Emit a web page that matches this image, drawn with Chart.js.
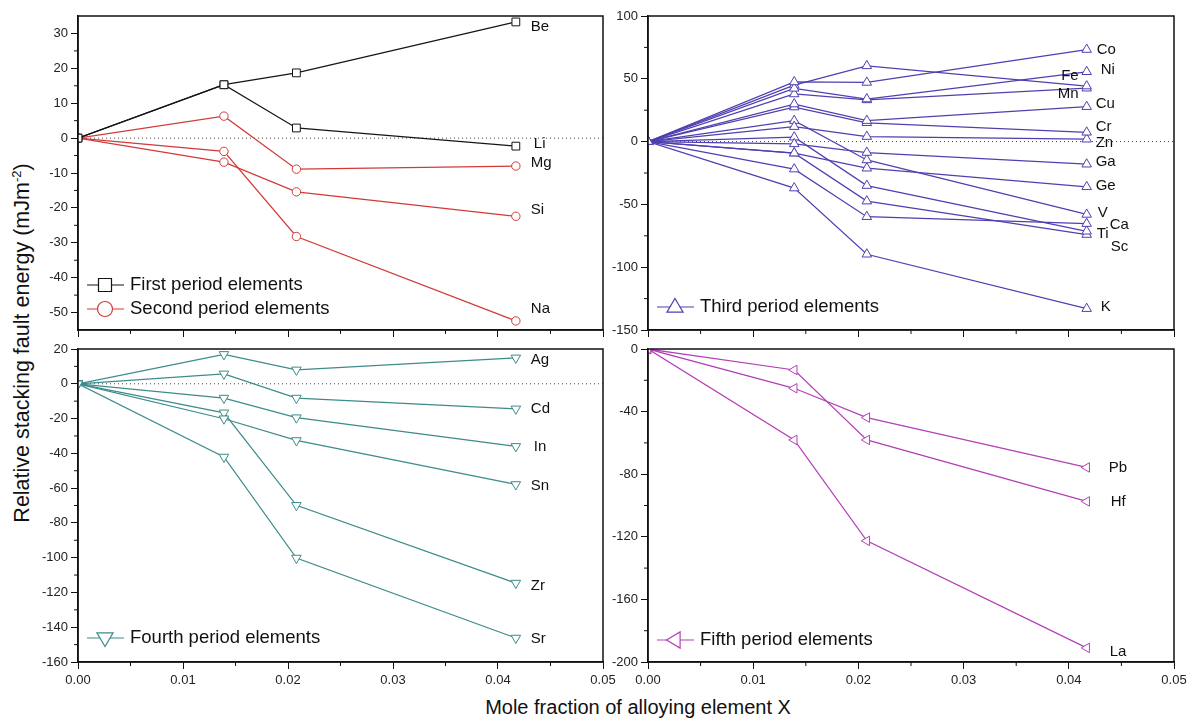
<!DOCTYPE html>
<html>
<head>
<meta charset="utf-8">
<title>Relative stacking fault energy vs mole fraction</title>
<script src="https://cdn.jsdelivr.net/npm/chart.js@4.4.1/dist/chart.umd.min.js"></script>
<style>
  body { margin: 0; background: #fff; }
  #wrap { position: relative; width: 1192px; height: 722px; overflow: hidden;
          font-family: 'Liberation Sans', Arial, sans-serif; color: #111; }
  #wrap canvas { position: absolute; left: 0; top: 0; }
  .ytitle { position: absolute; left: 22px; top: 343px; white-space: nowrap; font-size: 21.5px;
            transform: translate(-50%, -50%) rotate(-90deg); }
  .xtitle { position: absolute; left: 638px; top: 707px; white-space: nowrap; font-size: 20px;
            transform: translate(-50%, -50%); }
</style>
</head>
<body>
<div id="wrap">
  <div class="ytitle">Relative stacking fault energy (mJm<sup style="font-size:13px">-2</sup>)</div>
  <div class="xtitle">Mole fraction of alloying element X</div>
</div>
<script>
// mole fraction of the alloying element (same for every curve)
const xFraction = [0, 0.0139, 0.0208, 0.0417];
const xTicks = [0, 0.01, 0.02, 0.03, 0.04, 0.05];

// first period
const firstNames = ['Be', 'Li'];
const firstValues = [
  [0, 15.3, 18.7, 33.3],
  [0, 15.3, 2.9, -2.3]
];
// second period
const secondNames = ['Mg', 'Si', 'Na'];
const secondValues = [
  [0, 6.3, -8.9, -8.0],
  [0, -6.9, -15.4, -22.4],
  [0, -3.8, -28.2, -52.4]
];
const topLeftTicks = [30, 20, 10, 0, -10, -20, -30, -40, -50];

// third period
const thirdNames = ['Co', 'Ni', 'Fe', 'Mn', 'Cu', 'Cr', 'Zn', 'Ga', 'Ge', 'V', 'Ca', 'Ti', 'Sc', 'K'];
const thirdValues = [
  [0, 47.5, 47.1, 73.3],
  [0, 42.4, 33.9, 55.6],
  [0, 45.0, 60.3, 44.2],
  [0, 37.9, 33.2, 42.5],
  [0, 29.9, 16.7, 27.8],
  [0, 27.5, 15.0, 7.4],
  [0, 11.9, 4.0, 1.9],
  [0, -1.8, -8.7, -18.0],
  [0, -9.2, -21.2, -36.0],
  [0, 16.7, -14.6, -58.0],
  [0, -21.9, -59.8, -65.3],
  [0, 3.5, -35.0, -71.4],
  [0, -9.2, -47.4, -74.0],
  [0, -37.0, -89.7, -133.0]
];
const topRightTicks = [100, 50, 0, -50, -100, -150];

// fourth period
const fourthNames = ['Ag', 'Cd', 'In', 'Sn', 'Zr', 'Sr'];
const fourthValues = [
  [0, 16.9, 8.0, 14.9],
  [0, 5.7, -8.2, -14.4],
  [0, -8.2, -19.5, -36.0],
  [0, -20.1, -32.6, -57.9],
  [0, -16.7, -69.9, -114.6],
  [0, -42.1, -100.2, -146.2]
];
const bottomLeftTicks = [20, 0, -20, -40, -60, -80, -100, -120, -140, -160];

// fifth period
const fifthNames = ['Pb', 'Hf', 'La'];
const fifthValues = [
  [0, -25.1, -43.8, -75.7],
  [0, -13.4, -58.1, -97.4],
  [0, -58.1, -122.6, -191.0]
];
const bottomRightTicks = [0, -40, -80, -120, -160, -200];

const W = 1192, H = 722;
const wrap = document.getElementById('wrap');
const FONT = '"Liberation Sans", Arial, sans-serif';

function drawMarker(ctx, style, x, y, r, rot) {
  ctx.save();
  ctx.translate(x, y);
  ctx.rotate(rot * Math.PI / 180);
  ctx.beginPath();
  if (style === 'rect') {
    ctx.rect(-r, -r, 2 * r, 2 * r);
  } else if (style === 'circle') {
    ctx.arc(0, 0, r, 0, Math.PI * 2);
  } else {
    ctx.moveTo(0, -r);
    ctx.lineTo(r * 0.95, r * 0.6);
    ctx.lineTo(-r * 0.95, r * 0.6);
    ctx.closePath();
  }
  ctx.fillStyle = '#fff';
  ctx.fill();
  ctx.stroke();
  ctx.restore();
}

function makePanel(p) {
  const canvas = document.createElement('canvas');
  canvas.width = W; canvas.height = H;
  wrap.appendChild(canvas);
  const [l, t, r, b] = p.area;
  const xH = p.xLabels ? 30 : 8;

  const datasets = [];
  p.groups.forEach(g => {
    g.names.forEach((n, i) => {
      datasets.push({
        label: n,
        data: xFraction.map((x, k) => ({ x, y: g.values[i][k] })),
        borderColor: g.color,
        borderWidth: 1.25,
        pointStyle: g.marker,
        rotation: g.rotation,
        pointRadius: g.radius,
        pointBorderWidth: 1,
        pointBorderColor: g.color,
        pointBackgroundColor: '#fff',
        tension: 0,
        fill: false
      });
    });
  });

  const decor = {
    id: 'decor_' + p.id,
    beforeDatasetsDraw(chart) {
      if (!p.zero) return;
      const { ctx, chartArea: a, scales } = chart;
      const y0 = scales.y.getPixelForValue(0);
      ctx.save();
      ctx.strokeStyle = '#444';
      ctx.lineWidth = 1;
      ctx.setLineDash([1, 3]);
      ctx.beginPath();
      ctx.moveTo(a.left, y0);
      ctx.lineTo(a.right, y0);
      ctx.stroke();
      ctx.restore();
    },
    afterDraw(chart) {
      const { ctx, chartArea: a, scales } = chart;
      ctx.save();
      // frame
      ctx.strokeStyle = '#111';
      ctx.lineWidth = 1.5;
      ctx.strokeRect(a.left, a.top, a.right - a.left, a.bottom - a.top);
      // minor ticks
      ctx.lineWidth = 1;
      ctx.beginPath();
      for (let i = 0; i < xTicks.length - 1; i++) {
        const px = scales.x.getPixelForValue((xTicks[i] + xTicks[i + 1]) / 2);
        ctx.moveTo(px, a.bottom); ctx.lineTo(px, a.bottom + 4);
      }
      const step = p.yTicks[0] - p.yTicks[1];
      const minors = [];
      for (let i = 0; i < p.yTicks.length - 1; i++) minors.push((p.yTicks[i] + p.yTicks[i + 1]) / 2);
      minors.push(p.yTicks[0] + step / 2, p.yTicks[p.yTicks.length - 1] - step / 2);
      minors.forEach(v => {
        if (v <= p.yMin || v >= p.yMax) return;
        const py = scales.y.getPixelForValue(v);
        ctx.moveTo(a.left, py); ctx.lineTo(a.left - 4, py);
      });
      ctx.stroke();

      // element labels at the end of each curve
      ctx.font = '15px ' + FONT;
      ctx.fillStyle = '#111';
      ctx.textBaseline = 'middle';
      chart.data.datasets.forEach((ds, i) => {
        const pts = chart.getDatasetMeta(i).data;
        const last = pts[pts.length - 1];
        const nudge = p.nudge[ds.label] || [p.labelDx, 0];
        ctx.textAlign = nudge[0] < 0 ? 'right' : 'left';
        ctx.fillText(ds.label, last.x + nudge[0], last.y + nudge[1]);
      });

      // legend
      ctx.font = '18.5px ' + FONT;
      ctx.textAlign = 'left';
      p.groups.forEach((g, k) => {
        const y = a.bottom - p.legendDy[k];
        ctx.strokeStyle = g.color;
        ctx.lineWidth = 1.2;
        ctx.beginPath();
        ctx.moveTo(a.left + 9, y);
        ctx.lineTo(a.left + 46, y);
        ctx.stroke();
        drawMarker(ctx, g.marker, a.left + 27, y, g.legendRadius, g.rotation);
        ctx.fillStyle = '#111';
        ctx.fillText(g.legend, a.left + 52, y);
      });
      ctx.restore();
    }
  };

  return new Chart(canvas, {
    type: 'line',
    data: { datasets },
    options: {
      responsive: false,
      animation: false,
      events: [],
      layout: { padding: { left: l - p.yWidth, top: t, right: W - r, bottom: H - b - xH } },
      plugins: { legend: { display: false }, tooltip: { enabled: false } },
      scales: {
        x: {
          type: 'linear', min: 0, max: 0.05,
          afterBuildTicks: s => { s.ticks = xTicks.map(v => ({ value: v })); },
          afterFit: s => { s.height = xH; },
          grid: { drawOnChartArea: false, drawTicks: true, tickLength: 7, color: '#111', lineWidth: 1 },
          border: { display: true, color: '#111', width: 1.5 },
          ticks: { display: p.xLabels, autoSkip: false, maxRotation: 0, padding: 4, color: '#222',
                   font: { size: 13, family: FONT },
                   callback: v => Number(v).toFixed(2) }
        },
        y: {
          type: 'linear', min: p.yMin, max: p.yMax,
          afterBuildTicks: s => { s.ticks = p.yTicks.map(v => ({ value: v })); },
          afterFit: s => { s.width = p.yWidth; },
          grid: { drawOnChartArea: false, drawTicks: true, tickLength: 7, color: '#111', lineWidth: 1 },
          border: { display: true, color: '#111', width: 1.5 },
          ticks: { padding: 3, color: '#222', font: { size: 13, family: FONT },
                   callback: v => String(v) }
        }
      }
    },
    plugins: [decor]
  });
}

const black = '#151515', red = '#d23a3a', blue = '#4e40b0', teal = '#3d8b8b', magenta = '#b340b6';

makePanel({
  id: 'tl', area: [78, 16, 603, 330], yWidth: 78, xLabels: false, zero: true,
  yMin: -55, yMax: 35, yTicks: topLeftTicks, labelDx: 15,
  nudge: { Be: [15, 5], Li: [18, -2], Mg: [15, -3], Si: [15, -6], Na: [15, -12] },
  legendDy: [45, 21],
  groups: [
    { names: firstNames, values: firstValues, color: black, marker: 'rect', rotation: 0, radius: 5.5,
      legendRadius: 6.5, legend: 'First period elements' },
    { names: secondNames, values: secondValues, color: red, marker: 'circle', rotation: 0, radius: 4.2,
      legendRadius: 7.5, legend: 'Second period elements' }
  ]
});

makePanel({
  id: 'tr', area: [648, 16, 1174, 330], yWidth: 40, xLabels: false, zero: true,
  yMin: -150, yMax: 100, yTicks: topRightTicks, labelDx: 10,
  nudge: { Co: [10, 0], Ni: [14, -2], Fe: [-8, -10], Mn: [-8, 6], Cu: [9, -3], Cr: [9, -5], Zn: [9, 4],
           Ga: [9, -2], Ge: [9, -1], V: [11, -2], Ca: [23, 1], Ti: [10, 3], Sc: [24, 12], K: [14, -2] },
  legendDy: [23],
  groups: [
    { names: thirdNames, values: thirdValues, color: blue, marker: 'triangle', rotation: 0, radius: 5.5,
      legendRadius: 8.5, legend: 'Third period elements' }
  ]
});

makePanel({
  id: 'bl', area: [78, 349, 603, 662], yWidth: 78, xLabels: true, zero: true,
  yMin: -160, yMax: 20, yTicks: bottomLeftTicks, labelDx: 15,
  nudge: { Ag: [15, 2], In: [18, 0], Sn: [15, 1], Zr: [15, 3], Sr: [15, 1] },
  legendDy: [24],
  groups: [
    { names: fourthNames, values: fourthValues, color: teal, marker: 'triangle', rotation: 180, radius: 5.5,
      legendRadius: 8.5, legend: 'Fourth period elements' }
  ]
});

makePanel({
  id: 'br', area: [648, 349, 1174, 662], yWidth: 40, xLabels: true, zero: false,
  yMin: -200, yMax: 0, yTicks: bottomRightTicks, labelDx: 22,
  nudge: { Pb: [22, 0], Hf: [24, 0], La: [23, 4] },
  legendDy: [22],
  groups: [
    { names: fifthNames, values: fifthValues, color: magenta, marker: 'triangle', rotation: 270, radius: 5.5,
      legendRadius: 8.5, legend: 'Fifth period elements' }
  ]
});
</script>
</body>
</html>
